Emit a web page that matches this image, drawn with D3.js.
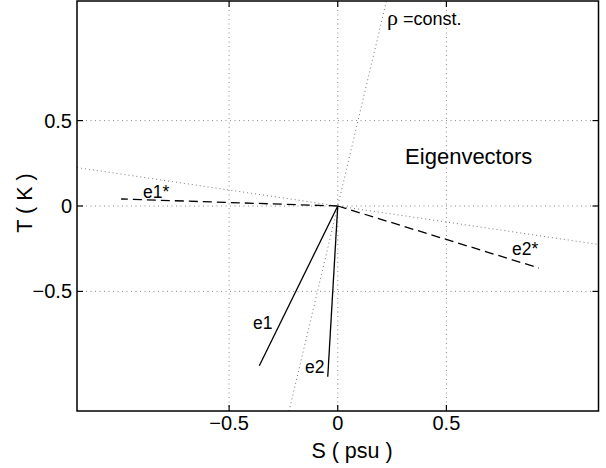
<!DOCTYPE html>
<html>
<head>
<meta charset="utf-8">
<script src="https://cdn.jsdelivr.net/npm/d3@7"></script>
<style>
  html, body { margin: 0; padding: 0; background: #fff; }
  svg { display: block; font-family: "Liberation Sans", Arial, sans-serif; }
</style>
</head>
<body>
<svg id="chart" width="606" height="468"></svg>
<script>
// Eigenvectors in the (S, T) plane, unit length, drawn from the origin
const vectorNames = ["e1", "e2", "e1*", "e2*"];
const vectorS = [-0.361, -0.046, -0.997, 0.926];
const vectorT = [-0.935, -0.999, 0.041, -0.363];

// Label anchor points (data coordinates) for each vector
const labelS = [-0.390, -0.151, -0.896, 0.802];
const labelT = [-0.720, -0.978, 0.049, -0.287];

// Reference lines through the origin (end points)
const rhoLineS = [-0.224, 0.224];
const rhoLineT = [-1.2, 1.2];
const orthoLineS = [-1.2, 1.2];
const orthoLineT = [0.225, -0.225];

// Axes
const xDomain = [-1.2, 1.2];
const yDomain = [-1.2, 1.2];
const xTicks = [-0.5, 0, 0.5];
const yTicks = [-0.5, 0, 0.5];
const xTickLabels = ["\u22120.5", "0", "0.5"];
const yTickLabels = ["\u22120.5", "0", "0.5"];

(function draw() {
  const svg = d3.select("#chart");
  const pLeft = 77, pRight = 598.5, pTop = 1, pBottom = 411;

  const x = d3.scaleLinear().domain(xDomain).range([pLeft, pRight]);
  const y = d3.scaleLinear().domain(yDomain).range([pBottom, pTop]);

  svg.append("defs").append("clipPath").attr("id", "plotClip")
    .append("rect").attr("x", pLeft).attr("y", pTop)
    .attr("width", pRight - pLeft).attr("height", pBottom - pTop);

  // grid
  const grid = svg.append("g").attr("stroke", "#8a8a8a").attr("stroke-width", 1)
    .attr("stroke-dasharray", "1,3.5");
  grid.selectAll("line.gx").data(xTicks).join("line").attr("class", "gx")
    .attr("x1", d => x(d)).attr("x2", d => x(d))
    .attr("y1", pTop).attr("y2", pBottom);
  grid.selectAll("line.gy").data(yTicks).join("line").attr("class", "gy")
    .attr("y1", d => y(d)).attr("y2", d => y(d))
    .attr("x1", pLeft).attr("x2", pRight);

  const plot = svg.append("g").attr("clip-path", "url(#plotClip)");

  // dotted reference lines
  const line = d3.line().x(d => x(d[0])).y(d => y(d[1]));
  [[rhoLineS, rhoLineT], [orthoLineS, orthoLineT]].forEach(([s, t]) => {
    plot.append("path")
      .attr("d", line(s.map((v, i) => [v, t[i]])))
      .attr("fill", "none").attr("stroke", "#777").attr("stroke-width", 1)
      .attr("stroke-dasharray", "1,3");
  });

  // eigenvectors: solid for e1/e2, dashed for the starred ones
  vectorNames.forEach((name, i) => {
    const dashed = name.endsWith("*");
    plot.append("path")
      .attr("d", line([[0, 0], [vectorS[i], vectorT[i]]]))
      .attr("fill", "none").attr("stroke", "#000").attr("stroke-width", 1.3)
      .attr("stroke-dasharray", dashed ? "9,5" : null);
    svg.append("text")
      .attr("x", x(labelS[i])).attr("y", y(labelT[i]))
      .attr("font-size", 17.5).attr("fill", "#000")
      .text(name);
  });

  // axes box
  svg.append("rect").attr("x", pLeft).attr("y", pTop)
    .attr("width", pRight - pLeft).attr("height", pBottom - pTop)
    .attr("fill", "none").attr("stroke", "#000").attr("stroke-width", 1.5);

  // inward ticks on all four sides
  const tl = 6;
  const ticks = svg.append("g").attr("stroke", "#000").attr("stroke-width", 1.2);
  xTicks.forEach(v => {
    ticks.append("line").attr("x1", x(v)).attr("x2", x(v)).attr("y1", pBottom).attr("y2", pBottom - tl);
    ticks.append("line").attr("x1", x(v)).attr("x2", x(v)).attr("y1", pTop).attr("y2", pTop + tl);
  });
  yTicks.forEach(v => {
    ticks.append("line").attr("y1", y(v)).attr("y2", y(v)).attr("x1", pLeft).attr("x2", pLeft + tl);
    ticks.append("line").attr("y1", y(v)).attr("y2", y(v)).attr("x1", pRight).attr("x2", pRight - tl);
  });

  // tick labels
  svg.append("g").selectAll("text").data(xTicks).join("text")
    .attr("x", d => x(d)).attr("y", 430)
    .attr("text-anchor", "middle").attr("font-size", 20)
    .text((d, i) => xTickLabels[i]);
  svg.append("g").selectAll("text").data(yTicks).join("text")
    .attr("x", 72).attr("y", d => y(d)).attr("dy", "0.35em")
    .attr("text-anchor", "end").attr("font-size", 20)
    .text((d, i) => yTickLabels[i]);

  // axis titles
  svg.append("text").attr("x", 352).attr("y", 458)
    .attr("text-anchor", "middle").attr("font-size", 21.5)
    .text("S ( psu )");
  svg.append("text")
    .attr("transform", "translate(32,203) rotate(-90)")
    .attr("text-anchor", "middle").attr("font-size", 21.5)
    .text("T ( K )");

  // annotations
  svg.append("text").attr("x", x(0.31)).attr("y", y(0.244))
    .attr("font-size", 22).text("Eigenvectors");
  const rho = svg.append("text").attr("x", x(0.227)).attr("y", y(1.06));
  rho.append("tspan").attr("font-family", "'Liberation Serif', 'DejaVu Serif', serif")
    .attr("font-size", 22).text("\u03c1");
  rho.append("tspan").attr("font-size", 18).text(" =const.");
})();
</script>
</body>
</html>
